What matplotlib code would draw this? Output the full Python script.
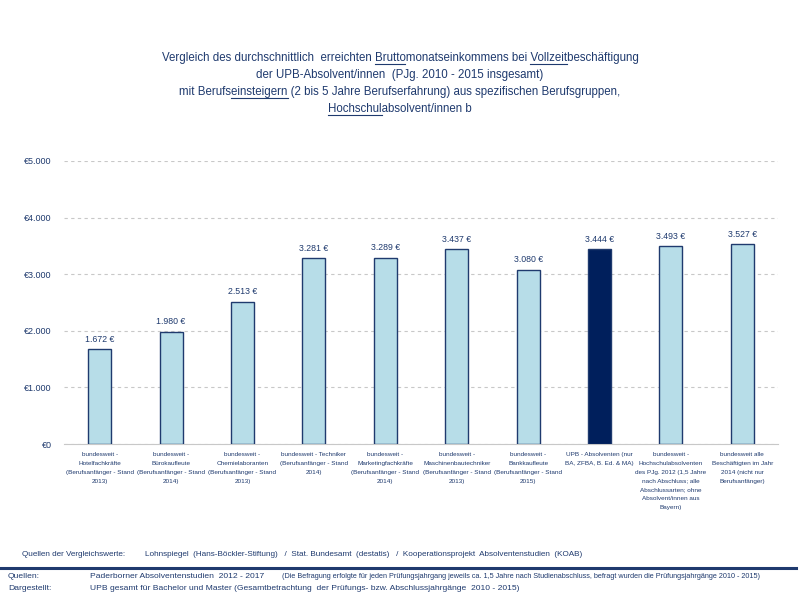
import matplotlib
matplotlib.use("Agg")
import matplotlib.pyplot as plt
from matplotlib.lines import Line2D

plt.rcParams['font.family'] = ['Liberation Sans', 'DejaVu Sans']

navy = '#1F3A6E'
light = '#B7DDE8'
dark = '#001F5C'

categories = [
    "bundesweit -\nHotelfachkräfte\n(Berufsanfänger - Stand\n2013)",
    "bundesweit -\nBürokaufleute\n(Berufsanfänger - Stand\n2014)",
    "bundesweit -\nChemielaboranten\n(Berufsanfänger - Stand\n2013)",
    "bundesweit - Techniker\n(Berufsanfänger - Stand\n2014)",
    "bundesweit -\nMarketingfachkräfte\n(Berufsanfänger - Stand\n2014)",
    "bundesweit -\nMaschinenbautechniker\n(Berufsanfänger - Stand\n2013)",
    "bundesweit -\nBankkaufleute\n(Berufsanfänger - Stand\n2015)",
    "UPB - Absolventen (nur\nBA, ZFBA, B. Ed. & MA)",
    "bundesweit -\nHochschulabsolventen\ndes PJg. 2012 (1,5 Jahre\nnach Abschluss; alle\nAbschlussarten; ohne\nAbsolvent/innen aus\nBayern)",
    "bundesweit alle\nBeschäftigten im Jahr\n2014 (nicht nur\nBerufsanfänger)",
]
values = [1672, 1980, 2513, 3281, 3289, 3437, 3080, 3444, 3493, 3527]
highlight = 7
yticks = [0, 1000, 2000, 3000, 4000, 5000]

title_lines = [
    [("Vergleich des durchschnittlich  erreichten ", False), ("Brutto", True),
     ("monatseinkommens bei ", False), ("Vollzeit", True), ("beschäftigung", False)],
    [("der UPB-Absolvent/innen  (PJg. 2010 - 2015 insgesamt)", False)],
    [("mit Berufs", False), ("einsteigern", True),
     (" (2 bis 5 Jahre Berufserfahrung) aus spezifischen Berufsgruppen,", False)],
    [("Hochschul", True), ("absolvent/innen b", False)],
]

fig = plt.figure(figsize=(8, 6), dpi=100)
ax = fig.add_axes([0.08, 0.26, 0.8925, 0.4717])

colors = [dark if i == highlight else light for i in range(len(values))]
bars = ax.bar(range(len(values)), values, width=0.32, color=colors,
              edgecolor=navy, linewidth=1.0, zorder=3)
for i, v in enumerate(values):
    lbl = f"{v:,} €".replace(",", ".")
    ax.annotate(lbl, (i, v), xytext=(0, 4), textcoords='offset points',
                ha='center', va='bottom', fontsize=6.3, color=navy)

ax.set_xlim(-0.5, len(values) - 0.5)
ax.set_ylim(0, 5000)
ax.set_yticks(yticks)
ax.set_yticklabels([f"€{t:,}".replace(",", ".") for t in yticks], fontsize=6.5, color=navy)
ax.set_xticks(range(len(values)))
ax.set_xticklabels(categories, fontsize=4.6, color=navy, linespacing=1.95, va='top')
ax.tick_params(axis='both', length=0)
ax.tick_params(axis='x', pad=6)
ax.tick_params(axis='y', pad=9)
ax.grid(axis='y', color='#C8C8C8', linestyle=(0, (3, 3)), linewidth=0.8, zorder=0)
for s in ['top', 'right', 'left']:
    ax.spines[s].set_visible(False)
ax.spines['bottom'].set_color('#C8C8C8')

# title with underlined parts
fig.canvas.draw()
r = fig.canvas.get_renderer()
title_fs = 8.3
ys = [58, 75, 92, 109]
for segs, ypx in zip(title_lines, ys):
    full = "".join(s for s, _ in segs)
    t = fig.text(0.5, 1 - ypx / 600, full, ha='center', va='center',
                 fontsize=title_fs, color=navy)
    fig.canvas.draw()
    bb = t.get_window_extent(r)
    prop = t.get_fontproperties()
    pos = 0
    for s, ul in segs:
        if ul:
            prefix = full[:pos]
            w_all = r.get_text_width_height_descent(prefix + s, prop, ismath=False)[0]
            w_seg = r.get_text_width_height_descent(s, prop, ismath=False)[0]
            x0 = bb.x0 + w_all - w_seg
            x1 = bb.x0 + w_all
            yl = bb.y0 + 0.5
            fig.add_artist(Line2D([x0 / 800, x1 / 800], [yl / 600, yl / 600],
                                  color=navy, linewidth=0.8))
        pos += len(s)

# footer
fig.text(22 / 800, 1 - 554 / 600, "Quellen der Vergleichswerte:", fontsize=5.85,
         color=navy, va='center')
fig.text(145 / 800, 1 - 554 / 600,
         "Lohnspiegel  (Hans-Böckler-Stiftung)   /  Stat. Bundesamt  (destatis)   /  "
         "Kooperationsprojekt  Absolventenstudien  (KOAB)",
         fontsize=5.85, color=navy, va='center')
fig.add_artist(Line2D([0, 0.995], [1 - 568 / 600] * 2, color='#1F3A6E', linewidth=2.2))
fig.text(8 / 800, 1 - 576 / 600, "Quellen:", fontsize=6.1, color=navy, va='center')
fig.text(90 / 800, 1 - 576 / 600, "Paderborner Absolventenstudien  2012 - 2017",
         fontsize=6.1, color=navy, va='center')
fig.text(282 / 800, 1 - 576 / 600,
         "(Die Befragung erfolgte für jeden Prüfungsjahrgang jeweils ca. 1,5 Jahre nach "
         "Studienabschluss, befragt wurden die Prüfungsjahrgänge 2010 - 2015)",
         fontsize=5.25, color=navy, va='center')
fig.text(8 / 800, 1 - 588 / 600, "Dargestellt:", fontsize=6.1, color=navy, va='center')
fig.text(90 / 800, 1 - 588 / 600,
         "UPB gesamt für Bachelor und Master (Gesamtbetrachtung  der Prüfungs- bzw. "
         "Abschlussjahrgänge  2010 - 2015)",
         fontsize=6.1, color=navy, va='center')

fig.savefig("out.png", dpi=100)
